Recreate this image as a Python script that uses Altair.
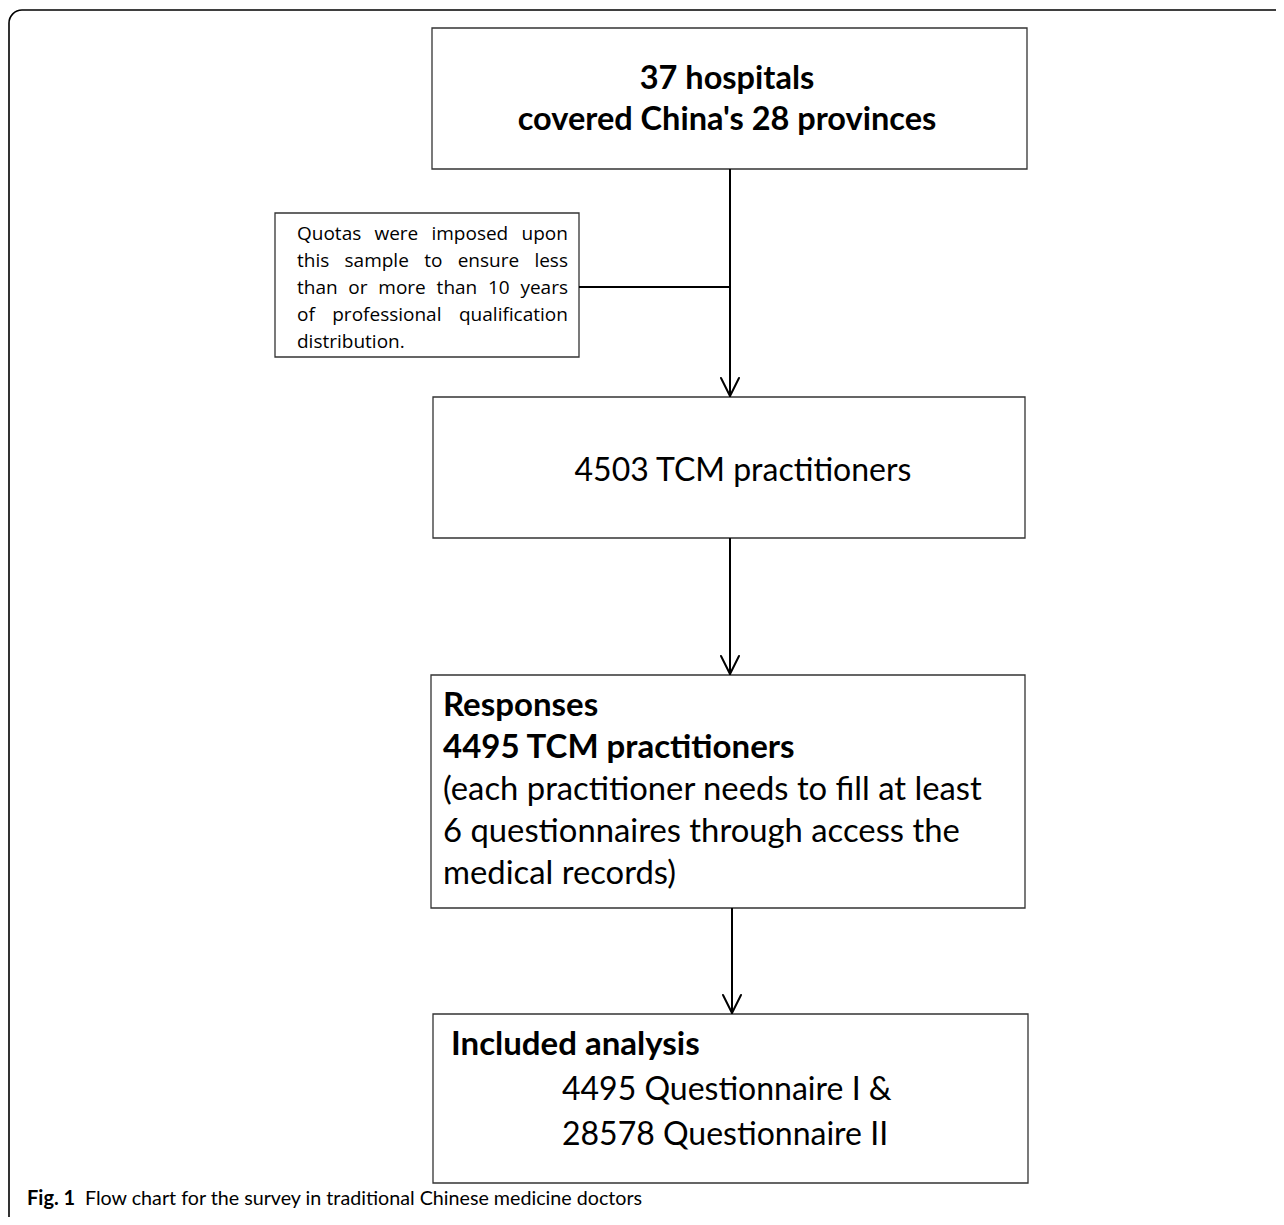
import altair as alt
import pandas as pd

# ---- text content ----
top_lines = ["37 hospitals", "covered China's 28 provinces"]
mid_line = ["4503 TCM practitioners"]
resp_bold = ["Responses", "4495 TCM practitioners"]
resp_regular = ["(each practitioner needs to fill at least",
                "6 questionnaires through access the",
                "medical records)"]
incl_bold = ["Included analysis"]
incl_regular = ["4495 Questionnaire I &", "28578 Questionnaire II"]
side_lines = ["Quotas were imposed upon",
              "this sample to ensure less",
              "than or more than 10 years",
              "of professional qualification",
              "distribution."]
caption_bold = ["Fig. 1"]
caption_regular = ["Flow chart for the survey in traditional Chinese medicine doctors"]

# ---- layout (page pixel coordinates) ----
box_x0 = [432, 275, 433, 431, 433]
box_x1 = [1027, 579, 1025, 1025, 1028]
box_y0 = [28, 213, 397, 675, 1014]
box_y1 = [169, 357, 538, 908, 1183]

seg_x0 = [730, 579, 730, 732]
seg_x1 = [730, 730, 730, 732]
seg_y0 = [169, 287, 538, 908]
seg_y1 = [396, 287, 674, 1013]

tip_x = [730, 730, 732]
tip_y = [396, 674, 1013]
ARM_W, ARM_H = 9, 18

SIDE_LEFT, SIDE_RIGHT = 297, 568
SIDE_Y = [234, 261, 288, 315, 342]
SIDE_SIZE = 19
SIDE_FONT = "Open Sans"

W, H = 1268, 1209
X = alt.X("x:Q", scale=alt.Scale(domain=[8, 8 + W]), axis=None)
Y = alt.Y("y:Q", scale=alt.Scale(domain=[8, 8 + H], reverse=True), axis=None)

# approximate Open Sans advance widths (em) for justification of the side note
ADV = {"a": .556, "b": .613, "c": .476, "d": .613, "e": .561, "f": .339, "g": .548,
       "h": .614, "i": .253, "j": .253, "k": .525, "l": .253, "m": .930, "n": .614,
       "o": .604, "p": .613, "q": .613, "r": .408, "s": .477, "t": .353, "u": .614,
       "v": .501, "w": .778, "x": .524, "y": .502, "z": .466, "Q": .781, ".": .266,
       "0": .572, "1": .572}


def word_w(w):
    return sum(ADV.get(c, .56) for c in w) * SIDE_SIZE


side_rows = []
for i, (line, yy) in enumerate(zip(side_lines, SIDE_Y)):
    words = line.split()
    last = i == len(side_lines) - 1
    if last or len(words) == 1:
        side_rows.append({"t": line, "x": SIDE_LEFT, "y": yy})
        continue
    widths = [word_w(w) for w in words]
    gap = (SIDE_RIGHT - SIDE_LEFT - sum(widths)) / (len(words) - 1)
    cx = SIDE_LEFT
    for w, ww in zip(words, widths):
        side_rows.append({"t": w, "x": cx, "y": yy})
        cx += ww + gap
side_df = pd.DataFrame(side_rows)

boxes = pd.DataFrame({"x": box_x0, "x2": box_x1, "y": box_y0, "y2": box_y1})
segs = pd.DataFrame({"x": seg_x0, "x2": seg_x1, "y": seg_y0, "y2": seg_y1})
arms = []
for tx, ty in zip(tip_x, tip_y):
    arms.append({"x": tx - ARM_W, "y": ty - ARM_H, "x2": tx, "y2": ty})
    arms.append({"x": tx + ARM_W, "y": ty - ARM_H, "x2": tx, "y2": ty})
arms = pd.DataFrame(arms)

frame = alt.Chart(pd.DataFrame({"x": [9], "x2": [1500], "y": [10], "y2": [1500]})).mark_rect(
    fill=None, stroke="#000", strokeWidth=1.6, cornerRadius=13
).encode(x=X, x2="x2:Q", y=Y, y2="y2:Q")

box_layer = alt.Chart(boxes).mark_rect(
    fill="white", stroke="#333", strokeWidth=1.3
).encode(x=X, x2="x2:Q", y=Y, y2="y2:Q")

seg_layer = alt.Chart(segs).mark_rule(color="#000", strokeWidth=2).encode(
    x=X, x2="x2:Q", y=Y, y2="y2:Q")
arm_layer = alt.Chart(arms).mark_rule(color="#000", strokeWidth=2, strokeCap="round").encode(
    x=X, x2="x2:Q", y=Y, y2="y2:Q")


def text_layer(lines, xs, ys, font, size, weight, align):
    df = pd.DataFrame({"t": lines, "x": xs, "y": ys})
    return alt.Chart(df).mark_text(
        font=font, fontSize=size, fontWeight=weight, align=align,
        baseline="middle", color="#000"
    ).encode(x=X, y=Y, text="t:N")


side_layer = alt.Chart(side_df).mark_text(
    font=SIDE_FONT, fontSize=SIDE_SIZE, align="left", baseline="middle", color="#000"
).encode(x=X, y=Y, text="t:N")

MAIN = "Lato"
layers = [
    frame, box_layer, seg_layer, arm_layer,
    text_layer(top_lines, [727, 727], [79, 120], MAIN, 32.5, "bold", "center"),
    text_layer(mid_line, [743], [471], MAIN, 32, "normal", "center"),
    text_layer(resp_bold, [443, 443], [706, 748], MAIN, 33, "bold", "left"),
    text_layer(resp_regular, [443, 443, 443], [790, 832, 874], MAIN, 32.8, "normal", "left"),
    text_layer(incl_bold, [451], [1045], MAIN, 33, "bold", "left"),
    text_layer(incl_regular, [562, 562], [1090, 1135], MAIN, 32, "normal", "left"),
    side_layer,
    text_layer(caption_bold, [27], [1199], MAIN, 20, "bold", "left"),
    text_layer(caption_regular, [85], [1199], MAIN, 19.7, "normal", "left"),
]

chart = alt.layer(*layers).properties(
    width=W, height=H, padding=0, autosize=alt.AutoSizeParams(type="none")
).configure_view(stroke=None)

chart.save("out.html", embed_options={"renderer": "svg", "actions": False})
